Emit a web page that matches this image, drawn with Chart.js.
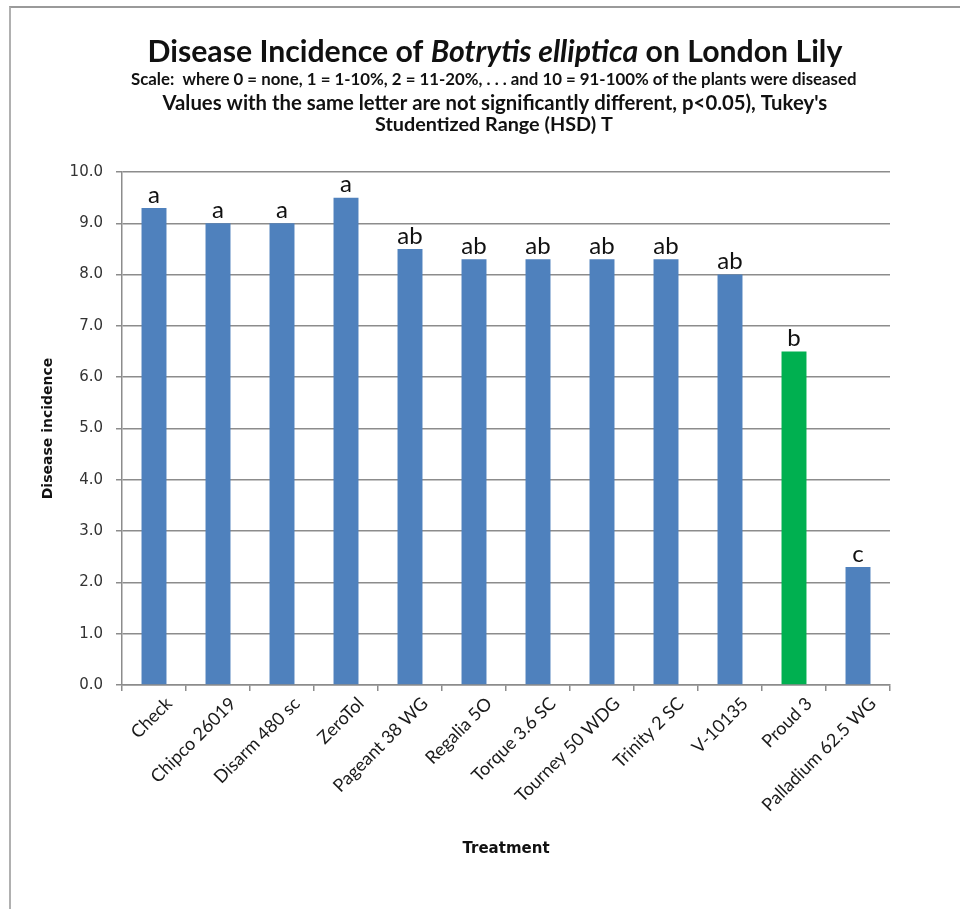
<!DOCTYPE html>
<html>
<head>
<meta charset="utf-8">
<script src="https://cdn.jsdelivr.net/npm/chart.js@4"></script>
<style>
  html, body { margin: 0; padding: 0; background: #fff; }
  #wrap { position: relative; width: 960px; height: 909px; }
  #frame { position: absolute; left: 9px; top: 6px; right: 0; bottom: 0;
           border-top: 2px solid #9a9a9a; border-left: 2px solid #b0b0b0; }
  canvas { position: absolute; left: 0; top: 0; }
</style>
</head>
<body>
<div id="wrap">
  <div id="frame"></div>
  <canvas id="chart" width="960" height="909"></canvas>
</div>
<script>
const treatments = [
  "Check", "Chipco 26019", "Disarm 480 sc", "ZeroTol", "Pageant 38 WG",
  "Regalia 5O", "Torque 3.6 SC", "Tourney 50 WDG", "Trinity 2 SC",
  "V-10135", "Proud 3", "Palladium 62.5 WG",
];
const incidence = [9.3, 9.0, 9.0, 9.5, 8.5, 8.3, 8.3, 8.3, 8.3, 8.0, 6.5, 2.3];
const letters = ["a", "a", "a", "a", "ab", "ab", "ab", "ab", "ab", "ab", "b", "c"];
const highlighted = "Proud 3";

const blue = "#4f81bd";
const green = "#00b050";
const gridGrey = "#8c8c8c";
const calibri = "Lato, 'Open Sans', sans-serif";

// draws a line of text stretched to fit a given width
function fitText(ctx, parts, weight, cx, cy, targetWidth) {
  const base = 20;
  let w = 0;
  parts.forEach((p) => {
    ctx.font = `${p.italic ? "italic " : ""}${weight} ${base}px ${calibri}`;
    w += ctx.measureText(p.text).width;
  });
  const size = base * targetWidth / w;
  let x = cx - targetWidth / 2;
  ctx.textBaseline = "middle";
  ctx.textAlign = "left";
  ctx.fillStyle = "#111";
  parts.forEach((p) => {
    ctx.font = `${p.italic ? "italic " : ""}${weight} ${size}px ${calibri}`;
    ctx.fillText(p.text, x, cy);
    x += ctx.measureText(p.text).width;
  });
}

const titlePlugin = {
  id: "titles",
  afterDraw(chart) {
    const ctx = chart.ctx;
    ctx.save();
    fitText(ctx, [
      { text: "Disease Incidence of " },
      { text: "Botrytis elliptica", italic: true },
      { text: " on London Lily" },
    ], "bold", 495, 52, 695);
    fitText(ctx, [{ text: "Scale:  where 0 = none, 1 = 1-10%, 2 = 11-20%, . . . and 10 = 91-100% of the plants were diseased" }],
      "bold", 494, 80, 726);
    fitText(ctx, [{ text: "Values with the same letter are not significantly different, p<0.05), Tukey's" }],
      "bold", 495, 103, 665);
    fitText(ctx, [{ text: "Studentized Range (HSD) T" }], "bold", 494, 125, 238);
    ctx.restore();
  },
};

const letterPlugin = {
  id: "letters",
  afterDatasetsDraw(chart) {
    const ctx = chart.ctx;
    const meta = chart.getDatasetMeta(0);
    ctx.save();
    ctx.font = `24px ${calibri}`;
    ctx.fillStyle = "#111";
    ctx.textAlign = "center";
    ctx.textBaseline = "bottom";
    meta.data.forEach((bar, i) => {
      ctx.fillText(letters[i], bar.x, bar.y - 1);
    });
    ctx.restore();
  },
};

Chart.register(titlePlugin, letterPlugin);
const ctx = document.getElementById("chart");

const chart = new Chart(ctx, {
  type: "bar",
  data: {
    labels: treatments,
    datasets: [
      {
        label: "Disease incidence",
        data: incidence,
        backgroundColor: treatments.map((t) => (t === highlighted ? green : blue)),
        categoryPercentage: 1,
        barPercentage: 0.39,
      },
    ],
  },
  options: {
    responsive: false,
    devicePixelRatio: 1,
    animation: false,
    layout: { padding: { left: 0, top: 172, right: 70, bottom: 47 } },
    plugins: {
      legend: { display: false },
      tooltip: { enabled: false },
    },
    scales: {
      y: {
        min: 0,
        max: 10,
        afterFit(scale) { scale.width = 122; },
        ticks: {
          stepSize: 1,
          padding: 13,
          color: "#333",
          font: { family: "'DejaVu Sans'", size: 15 },
          callback: (v) => v.toFixed(1),
        },
        grid: { color: gridGrey, lineWidth: 1.5, tickLength: 6 },
        border: { color: gridGrey, width: 1.5 },
        title: {
          display: true,
          text: "Disease incidence",
          color: "#111",
          font: { family: "'DejaVu Sans'", size: 14, weight: "bold" },
          padding: { top: 40, bottom: 0 },
        },
      },
      x: {
        afterFit(scale) { scale.height = 177; },
        ticks: {
          autoSkip: false,
          minRotation: 45,
          maxRotation: 45,
          padding: 2,
          labelOffset: 15,
          color: "#1a1a1a",
          font: { family: calibri, size: 18 },
        },
        grid: { drawOnChartArea: false, color: gridGrey, lineWidth: 1.5, tickLength: 6, offset: true },
        border: { color: gridGrey, width: 1.5 },
        title: {
          display: true,
          text: "Treatment",
          color: "#111",
          font: { family: "'DejaVu Sans'", size: 15, weight: "bold" },
          padding: { top: 0, bottom: 4 },
        },
      },
    },
  },
});
</script>
</body>
</html>
